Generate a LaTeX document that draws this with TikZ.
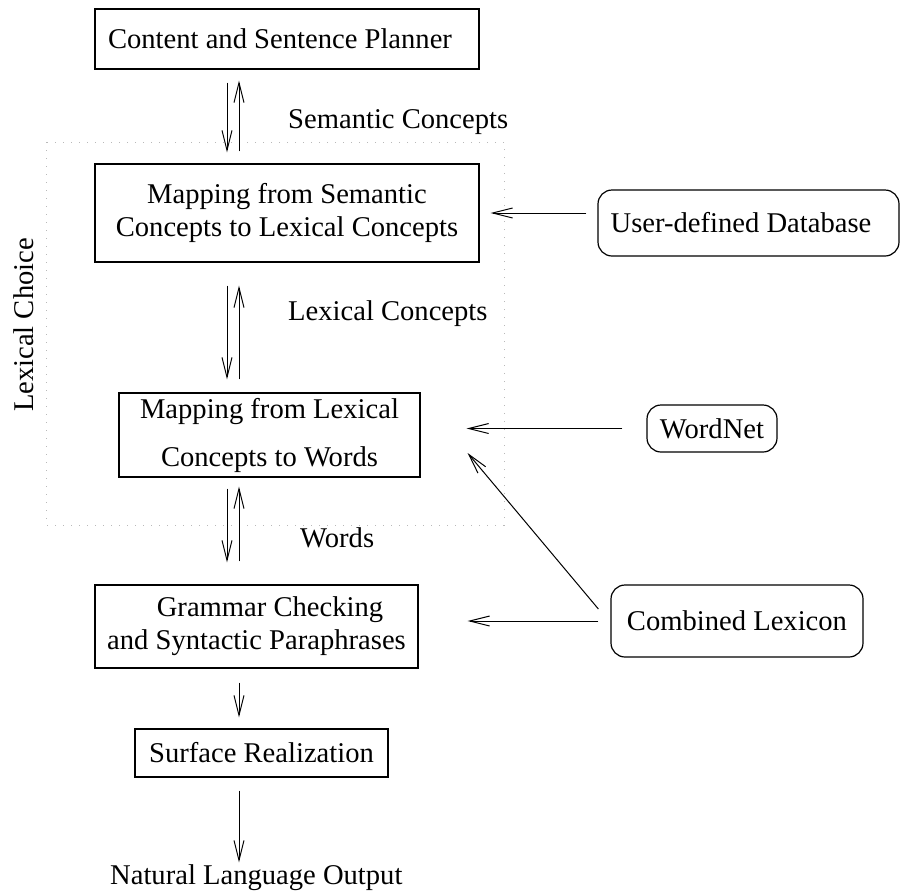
\documentclass[tikz,border=0pt]{standalone}
\usepackage{fontspec}
\setmainfont{Liberation Serif}
\usetikzlibrary{arrows.meta,calc}
\begin{document}
\begin{tikzpicture}[x=1pt,y=-1pt,
  every node/.style={font=\fontsize{28.6}{33}\selectfont},
  block/.style={draw, line width=1.2pt, align=center, inner sep=0pt},
  source/.style={block, rounded corners=14pt},
  flow/.style={line width=1pt, -{Straight Barb[length=20pt,width=10pt,line width=1pt]}},
  caption/.style={inner sep=0pt, anchor=base west}]
\useasboundingbox (0,0) rectangle (903,892);

% dotted frame grouping the lexical choice stages
\draw[gray!55, line width=1pt, dash pattern=on 1pt off 7pt] (46,142) rectangle (504,525);

% pipeline stages
\node[block, minimum width=384pt, minimum height=60pt] (cp) at (287,39)
  {Content and Sentence Planner\hspace*{14pt}};
\node[block, minimum width=384pt, minimum height=98pt] (m1) at (287,213)
  {Mapping from Semantic\\Concepts to Lexical Concepts};
\node[block, minimum width=301pt, minimum height=84pt] (m2) at (269.5,435)
  {Mapping from Lexical\\[15pt]Concepts to Words};
\node[block, minimum width=323pt, minimum height=83pt] (gc) at (256.5,626.5)
  {\hspace*{27pt}Grammar Checking\\and Syntactic Paraphrases};
\node[block, minimum width=253pt, minimum height=48pt] (sr) at (261.5,753)
  {Surface Realization};

% knowledge sources
\node[source, minimum width=301pt, minimum height=66pt] (udb) at (748.5,223)
  {User-defined Database\hspace*{15pt}};
\node[source, minimum width=130pt, minimum height=47pt] (wn) at (712,428.5) {WordNet};
\node[source, minimum width=252pt, minimum height=72pt] (cl) at (737,621) {Combined Lexicon};

% labels
\node[caption] (sem) at (288,128) {Semantic Concepts};
\node[caption] (lex) at (288,320) {Lexical Concepts};
\node[caption] (wrd) at (300,547) {Words};
\node[caption] (nlo) at (110,884) {Natural Language Output};
\node[inner sep=0pt, rotate=90, anchor=base] (lc) at (34,325) {Lexical Choice};

% columns of the vertical arrows
\coordinate (colL) at (227,0);
\coordinate (colR) at (239,0);

% two-way links between stages
\draw[flow, shorten <=13pt, shorten >=11pt] (cp.south -| colL) -- (m1.north -| colL);
\draw[flow, shorten <=12pt, shorten >=11pt] (m1.north -| colR) -- (cp.south -| colR);
\draw[flow, shorten <=23pt, shorten >=13pt] (m1.south -| colL) -- (m2.north -| colL);
\draw[flow, shorten <=13pt, shorten >=23pt] (m2.north -| colR) -- (m1.south -| colR);
\draw[flow, shorten <=11pt, shorten >=22pt] (m2.south -| colL) -- (gc.north -| colL);
\draw[flow, shorten <=23pt, shorten >=9pt] (gc.north -| colR) -- (m2.south -| colR);

% one-way links
\draw[flow, shorten <=14pt, shorten >=11pt] (gc.south -| colR) -- (sr.north -| colR);
\draw[flow, shorten <=13pt, shorten >=1.5pt] (sr.south -| colR) -- (nlo.north -| colR);

% knowledge sources feeding the stages
\draw[flow, shorten <=11pt, shorten >=11pt] (udb.west |- m1.east) -- (m1.east);
\draw[flow, shorten <=24pt, shorten >=46pt] (wn.west) -- (wn.west -| m2.east);
\draw[flow, shorten <=12pt, shorten >=49pt] (cl.west) -- (cl.west -| gc.east);
\draw[flow] ($(cl.west)+(-12,-12)$) -- ($(m2.east)+(47,18)$);
\end{tikzpicture}
\end{document}
